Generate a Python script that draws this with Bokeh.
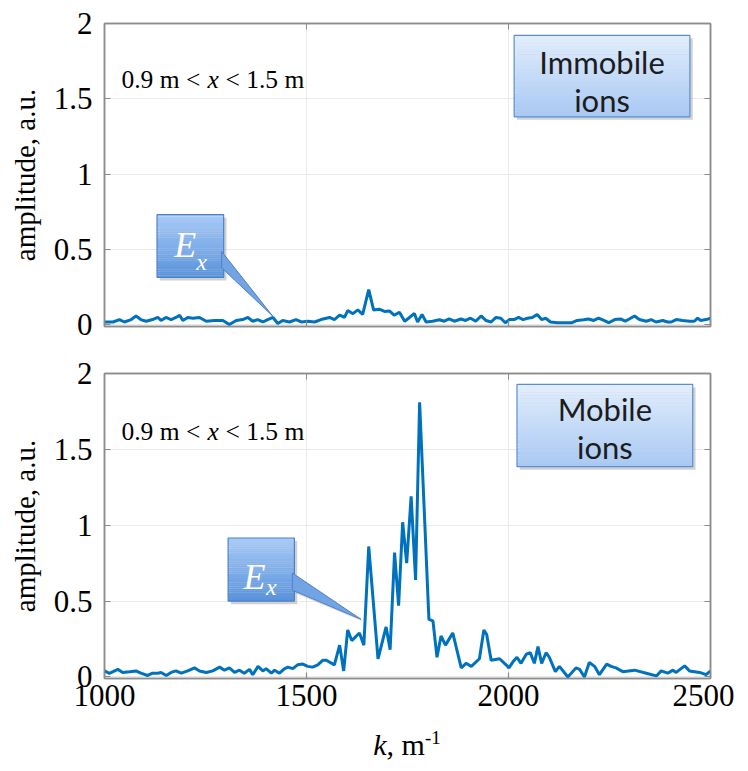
from bokeh.plotting import figure
from bokeh.models import Range1d, FixedTicker, LinearAxis, Label, Div
from bokeh.layouts import column
from bokeh.embed import file_html
from bokeh.resources import INLINE

# ---------------- data ----------------
k_top = [1000, 1021, 1037, 1049, 1066, 1078, 1090, 1103, 1119, 1132,
         1140, 1152, 1165, 1177, 1186, 1194, 1206, 1219, 1235, 1252,
         1272, 1293, 1309, 1326, 1342, 1355, 1367, 1379, 1392, 1404,
         1417, 1429, 1441, 1458, 1474, 1487, 1503, 1520, 1536, 1557,
         1569, 1582, 1594, 1602, 1615, 1627, 1639, 1654, 1666, 1680,
         1693, 1705, 1717, 1730, 1743, 1755, 1767, 1775, 1786, 1796,
         1812, 1829, 1841, 1853, 1866, 1882, 1894, 1906, 1919, 1932,
         1944, 1957, 1969, 1981, 1992, 2002, 2014, 2025, 2036, 2047,
         2059, 2071, 2082, 2092, 2104, 2121, 2141, 2157, 2170, 2186,
         2198, 2211, 2223, 2236, 2248, 2263, 2277, 2289, 2312, 2324,
         2341, 2353, 2365, 2382, 2394, 2403, 2415, 2431, 2448, 2460,
         2468, 2476, 2489, 2500]
amp_top = [0.02, 0.02, 0.036, 0.02, 0.036, 0.06, 0.036, 0.025, 0.036, 0.05,
           0.03, 0.05, 0.036, 0.05, 0.065, 0.03, 0.05, 0.045, 0.05, 0.025,
           0.03, 0.03, 0.003, 0.03, 0.036, 0.05, 0.025, 0.036, 0.02, 0.036,
           0.05, 0.01, 0.03, 0.02, 0.036, 0.02, 0.025, 0.02, 0.036, 0.05,
           0.036, 0.065, 0.05, 0.096, 0.075, 0.1, 0.07, 0.235, 0.1, 0.105,
           0.09, 0.093, 0.065, 0.085, 0.025, 0.05, 0.076, 0.02, 0.07, 0.02,
           0.025, 0.035, 0.025, 0.04, 0.025, 0.04, 0.03, 0.045, 0.025, 0.06,
           0.03, 0.02, 0.05, 0.045, 0.015, 0.036, 0.036, 0.05, 0.036, 0.045,
           0.05, 0.07, 0.036, 0.045, 0.02, 0.015, 0.015, 0.015, 0.03, 0.035,
           0.04, 0.03, 0.045, 0.03, 0.015, 0.036, 0.04, 0.025, 0.06, 0.036,
           0.025, 0.036, 0.02, 0.03, 0.02, 0.02, 0.036, 0.03, 0.025, 0.025,
           0.045, 0.03, 0.036, 0.045]

k_bot = [1000, 1012, 1021, 1033, 1045, 1062, 1078, 1090, 1107, 1119,
         1132, 1140, 1153, 1165, 1177, 1190, 1206, 1223, 1235, 1252,
         1268, 1285, 1297, 1309, 1322, 1334, 1346, 1359, 1367, 1380,
         1392, 1400, 1413, 1421, 1433, 1446, 1454, 1466, 1478, 1491,
         1503, 1515, 1528, 1540, 1549, 1569, 1582, 1592, 1602, 1612,
         1631, 1642, 1654, 1677, 1697, 1707, 1718, 1728, 1738, 1748,
         1759, 1770, 1780, 1803, 1813, 1823, 1833, 1844, 1862, 1883,
         1895, 1908, 1928, 1939, 1946, 1957, 1978, 1994, 2001, 2011,
         2021, 2031, 2044, 2054, 2064, 2073, 2082, 2093, 2101, 2116,
         2126, 2147, 2167, 2176, 2188, 2200, 2213, 2225, 2243, 2254,
         2266, 2283, 2312, 2341, 2366, 2378, 2394, 2407, 2415, 2436,
         2448, 2473, 2489, 2500]
amp_bot = [0.04, 0.024, 0.035, 0.05, 0.03, 0.035, 0.04, 0.025, 0.01, 0.025,
           0.025, 0.03, 0.01, 0.03, 0.04, 0.025, 0.04, 0.06, 0.04, 0.03,
           0.04, 0.065, 0.045, 0.06, 0.03, 0.045, 0.025, 0.05, 0.015, 0.07,
           0.04, 0.055, 0.025, 0.045, 0.025, 0.055, 0.065, 0.055, 0.08, 0.085,
           0.07, 0.065, 0.08, 0.11, 0.11, 0.08, 0.21, 0.04, 0.31, 0.24,
           0.29, 0.21, 0.86, 0.12, 0.33, 0.18, 0.82, 0.47, 1.02, 0.75,
           1.19, 0.64, 1.81, 0.38, 0.37, 0.13, 0.27, 0.21, 0.29, 0.06,
           0.09, 0.07, 0.12, 0.31, 0.28, 0.11, 0.12, 0.08, 0.06, 0.10,
           0.13, 0.09, 0.15, 0.16, 0.09, 0.20, 0.09, 0.16, 0.13, 0.035,
           0.07, 0.0, 0.06, 0.05, 0.0, 0.095, 0.07, 0.015, 0.085, 0.07,
           0.06, 0.035, 0.045, 0.025, 0.007, 0.04, 0.025, 0.045, 0.03, 0.073,
           0.04, 0.03, 0.015, 0.04]

x_ticks = [1000, 1500, 2000, 2500]
y_ticks = [0, 0.5, 1, 1.5, 2]
y_tick_labels = ["0", "0.5", "1", "1.5", "2"]
panel_titles = [["Immobile", "ions"], ["Mobile", "ions"]]
range_text = ["0.9 m <", "x", "< 1.5 m"]

# ---------------- style ----------------
SERIF = "Liberation Serif"
SANS = "Lato"
LINE_COLOR = "#0072bd"
AXIS_COLOR = "#8c8c8c"
GRID_COLOR = "#e9e9e9"


def lerp_color(c1, c2, t):
    a = [int(c1[i:i + 2], 16) for i in (1, 3, 5)]
    b = [int(c2[i:i + 2], 16) for i in (1, 3, 5)]
    return "#%02x%02x%02x" % tuple(int(round(a[j] + (b[j] - a[j]) * t)) for j in range(3))


def gradient_box(p, left, right, bottom, top, c_top, c_bot, border, dx, dy, n=30):
    p.quad(left=[left + dx], right=[right + dx], bottom=[bottom - dy], top=[top - dy],
           fill_color="#9a9a9a", fill_alpha=0.45, line_color=None)
    h = (top - bottom) / n
    lefts, rights, bots, tops, cols = [], [], [], [], []
    for i in range(n):
        t = (i + 0.5) / n
        lefts.append(left)
        rights.append(right)
        tops.append(top - i * h)
        bots.append(top - (i + 1) * h - h * 0.05)
        cols.append(lerp_color(c_top, c_bot, t))
    p.quad(left=lefts, right=rights, bottom=bots, top=tops, fill_color=cols, line_color=None)
    p.quad(left=[left], right=[right], bottom=[bottom], top=[top],
           fill_color=None, line_color=border, line_width=1.2)


def make_fig(frame_h, border_top, border_bottom, show_xlabels):
    p = figure(frame_width=606, frame_height=frame_h,
               x_range=Range1d(1000, 2500), y_range=Range1d(-0.01, 2.0),
               output_backend="svg", toolbar_location=None,
               min_border_left=104, min_border_right=24,
               min_border_top=border_top, min_border_bottom=border_bottom,
               background_fill_color="white", border_fill_color="white",
               outline_line_color=AXIS_COLOR, outline_line_width=1.5)
    p.xaxis.ticker = FixedTicker(ticks=x_ticks)
    p.yaxis.ticker = FixedTicker(ticks=y_ticks)
    p.yaxis.major_label_overrides = {t: s for t, s in zip(y_ticks, y_tick_labels)}
    for ax in p.axis:
        ax.major_tick_in = 6
        ax.major_tick_out = 0
        ax.minor_tick_line_color = None
        ax.axis_line_color = AXIS_COLOR
        ax.axis_line_width = 1.5
        ax.major_tick_line_color = AXIS_COLOR
        ax.major_tick_line_width = 1.2
        ax.major_label_text_font = SERIF
        ax.major_label_text_font_size = "31px"
        ax.major_label_text_color = "black"
    p.yaxis.major_label_standoff = 12
    p.xaxis.major_label_standoff = 6
    if not show_xlabels:
        p.xaxis.major_label_text_font_size = "1px"
        p.xaxis.major_label_text_color = None
        p.xaxis.major_label_standoff = 0
    p.yaxis.axis_label = "amplitude, a.u."
    p.yaxis.axis_label_text_font = SERIF
    p.yaxis.axis_label_text_font_size = "29px"
    p.yaxis.axis_label_text_font_style = "normal"
    p.yaxis.axis_label_text_color = "black"
    p.yaxis.axis_label_standoff = 10

    for side, ticks in (("right", y_ticks), ("above", x_ticks)):
        ax = LinearAxis(ticker=FixedTicker(ticks=ticks), major_label_text_font_size="1px",
                        major_label_text_color=None,
                        major_label_standoff=0, major_tick_in=6, major_tick_out=0,
                        minor_tick_line_color=None, axis_line_color=AXIS_COLOR,
                        axis_line_width=1.5, major_tick_line_color=AXIS_COLOR)
        p.add_layout(ax, side)

    p.grid.grid_line_color = GRID_COLOR
    p.grid.grid_line_width = 1
    return p


def add_range_text(p, y):
    offs = [0, 86, 104]
    styles = ["normal", "italic", "normal"]
    for txt, off, st in zip(range_text, offs, styles):
        p.add_layout(Label(x=1042, y=y, x_offset=off, text=txt, text_baseline="middle",
                           text_font=SERIF, text_font_size="25.5px",
                           text_font_style=st, text_color="black"))


def add_title_box(p, box, lines, ys):
    left, right, bottom, top = box
    gradient_box(p, left, right, bottom, top, "#e2eefd", "#a7c8f4", "#5b8fd0", 7, 0.02)
    cx = (left + right) / 2
    for txt, y in zip(lines, ys):
        p.add_layout(Label(x=cx, y=y, text=txt, text_align="center", text_baseline="middle",
                           text_font=SANS, text_font_size="31px", text_color="#1c1c1c"))


def add_ex_callout(p, box, wedge_x, wedge_y, e_pos, x_pos):
    left, right, bottom, top = box
    p.patch(x=[wedge_x[0] + 7, wedge_x[1] + 7, wedge_x[2] + 5],
            y=[wedge_y[0] - 0.02, wedge_y[1] - 0.02, wedge_y[2] - 0.015],
            fill_color="#9a9a9a", fill_alpha=0.4, line_color=None)
    gradient_box(p, left, right, bottom, top, "#a8cbf8", "#5892dc", "#4d82c6", 7, 0.02)
    p.patch(x=wedge_x, y=wedge_y, fill_color="#72a3e4", line_color="#4d82c6", line_width=1)
    p.add_layout(Label(x=e_pos[0], y=e_pos[1], text="E", text_align="center",
                       text_baseline="middle", text_font=SERIF, text_font_size="36px",
                       text_font_style="italic", text_color="white"))
    p.add_layout(Label(x=x_pos[0], y=x_pos[1], text="x", text_align="center",
                       text_baseline="middle", text_font=SERIF, text_font_size="24px",
                       text_font_style="italic", text_color="white"))


# ---------------- top panel ----------------
p1 = make_fig(303, 23, 21, False)
p1.line(k_top, amp_top, line_color=LINE_COLOR, line_width=3)
add_range_text(p1, 1.63)
add_title_box(p1, (2014, 2449, 1.381, 1.921), panel_titles[0], [1.745, 1.493])
add_ex_callout(p1, (1130, 1295, 0.315, 0.732),
               [1290, 1290, 1416], [0.487, 0.38, 0.06],
               (1200, 0.53), (1240, 0.42))

# ---------------- bottom panel ----------------
p2 = make_fig(305, 26, 46, True)
p2.line(k_bot, amp_bot, line_color=LINE_COLOR, line_width=3)
add_range_text(p2, 1.617)
add_title_box(p2, (2021, 2456, 1.386, 1.928), panel_titles[1], [1.769, 1.518])
add_ex_callout(p2, (1306, 1470, 0.50, 0.916),
               [1465, 1465, 1635], [0.685, 0.572, 0.38],
               (1371, 0.66), (1413, 0.59))

xlabel = Div(text='<div style="width:606px;text-align:center;font-family:\'Liberation Serif\';'
                  'font-size:30px;color:black;line-height:28px;">'
                  '<i>k</i>, m<sup style="font-size:19px;">-1</sup></div>',
             width=606, height=40, margin=(0, 0, 0, 104))

layout = column(p1, p2, xlabel)
open("out.html", "w").write(file_html(layout, INLINE))
